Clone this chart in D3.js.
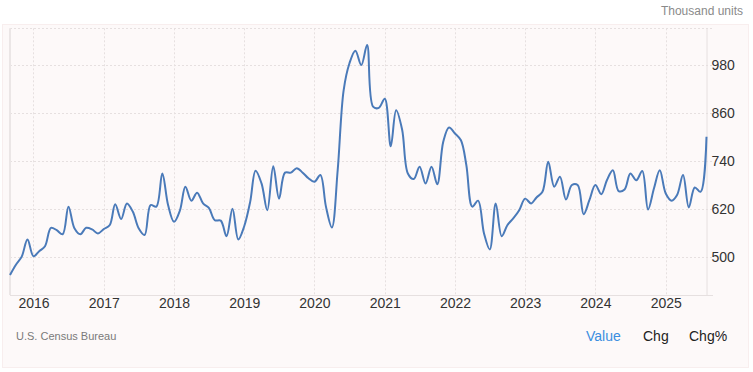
<!DOCTYPE html>
<html>
<head>
<meta charset="utf-8">
<script src="https://cdn.jsdelivr.net/npm/d3@7"></script>
<style>
  html, body { margin: 0; padding: 0; background: #fff; }
  body { width: 753px; height: 372px; overflow: hidden; font-family: "Liberation Sans", Arial, sans-serif; }
</style>
</head>
<body>
<svg id="chart" width="753" height="372"></svg>
<script>
// monthly new home sales, Sep 2015 .. Aug 2025 (thousand units)
const startMonth = '2015-09';
const sales = [
  455, 480, 501, 544, 502, 515, 527, 573, 567, 557, 626, 572,
  557, 573, 569, 559, 570, 580, 632, 595, 634, 613, 572, 555,
  630, 626, 709, 630, 588, 617, 676, 641, 661, 634, 623, 592,
  591, 552, 621, 544, 577, 638, 716, 684, 617, 727, 646, 711,
  711, 722, 711, 697, 688, 705, 626, 574, 717, 917, 984, 1016,
  980, 1030, 876, 873, 896, 777, 867, 819, 709, 695, 726, 684,
  726, 682, 788, 824, 809, 792, 730, 626, 641, 559, 519, 634,
  552, 580, 597, 617, 646, 634, 649, 663, 738, 676, 701, 644,
  680, 680, 607, 642, 680, 657, 692, 717, 665, 669, 709, 692,
  715, 619, 672, 717, 659, 641, 655, 705, 624, 674, 663, 801
];
const yTicks = [500, 620, 740, 860, 980];
const yearTicks = [2016, 2017, 2018, 2019, 2020, 2021, 2022, 2023, 2024, 2025];
const unitLabel = 'Thousand units';
const sourceLabel = 'U.S. Census Bureau';
const tabs = ['Value', 'Chg', 'Chg%'];

const t0 = d3.timeParse('%Y-%m')(startMonth);
const data = sales.map((v, i) => ({ date: d3.timeMonth.offset(t0, i), value: v }));

const svg = d3.select('#chart');

const plot = { left: 10, right: 706.5, top: 28.3, bottom: 295 };

// panel
svg.append('rect')
  .attr('x', 2.5).attr('y', 24.5).attr('width', 746).attr('height', 343)
  .attr('fill', '#fdf9f9').attr('stroke', '#f8eeee').attr('stroke-width', 1);

const x = d3.scaleTime()
  .domain(d3.extent(data, d => d.date))
  .range([plot.left, plot.right]);

const y = d3.scaleLinear()
  .domain([405, 1072])
  .range([plot.bottom, plot.top]);

// grid
const grid = svg.append('g')
  .attr('stroke', '#e6e0e0')
  .attr('stroke-dasharray', '2,2')
  .attr('stroke-width', 1);

grid.selectAll('line.h')
  .data(yTicks.concat([1072]))
  .join('line')
  .attr('class', 'h')
  .attr('x1', plot.left).attr('x2', 713)
  .attr('y1', d => Math.round(y(d)) + 0.5)
  .attr('y2', d => Math.round(y(d)) + 0.5);

grid.selectAll('line.v')
  .data(yearTicks)
  .join('line')
  .attr('class', 'v')
  .attr('x1', d => Math.round(x(new Date(d, 0, 1))) + 0.5)
  .attr('x2', d => Math.round(x(new Date(d, 0, 1))) + 0.5)
  .attr('y1', plot.top).attr('y2', plot.bottom);

// plot borders
svg.append('line')
  .attr('x1', plot.left).attr('x2', plot.left)
  .attr('y1', plot.top).attr('y2', plot.bottom)
  .attr('stroke', '#ebe6e6').attr('stroke-width', 2);
svg.append('line')
  .attr('x1', plot.left).attr('x2', 713)
  .attr('y1', plot.bottom + 0.5).attr('y2', plot.bottom + 0.5)
  .attr('stroke', '#e6e0e0').attr('stroke-width', 1);
svg.append('line')
  .attr('x1', plot.right + 0.5).attr('x2', plot.right + 0.5)
  .attr('y1', plot.top).attr('y2', plot.bottom)
  .attr('stroke', '#e6e0e0').attr('stroke-width', 1);

// y axis (right)
const yAxis = d3.axisRight(y).tickValues(yTicks).tickSize(0).tickPadding(5);
svg.append('g')
  .attr('transform', `translate(${plot.right},0)`)
  .call(yAxis)
  .call(g => g.select('.domain').remove())
  .call(g => g.selectAll('text')
    .attr('fill', '#333')
    .attr('font-size', '14px')
    .attr('font-family', '"Liberation Sans", Arial, sans-serif'));

// x axis
const xAxis = d3.axisBottom(x)
  .tickValues(yearTicks.map(yr => new Date(yr, 0, 1)))
  .tickFormat(d3.timeFormat('%Y'))
  .tickSize(0).tickPadding(3);
svg.append('g')
  .attr('transform', `translate(0,${plot.bottom})`)
  .call(xAxis)
  .call(g => g.select('.domain').remove())
  .call(g => g.selectAll('text')
    .attr('fill', '#333')
    .attr('font-size', '14px')
    .attr('font-family', '"Liberation Sans", Arial, sans-serif'));

// line
const line = d3.line()
  .x(d => x(d.date))
  .y(d => y(d.value))
  .curve(d3.curveCatmullRom.alpha(0.5));

svg.append('path')
  .datum(data)
  .attr('fill', 'none')
  .attr('stroke', '#4a7ab9')
  .attr('stroke-width', 2)
  .attr('stroke-linejoin', 'round')
  .attr('d', line);

// texts
svg.append('text')
  .attr('x', 743).attr('y', 15)
  .attr('text-anchor', 'end')
  .attr('fill', '#8a8a8a')
  .attr('font-size', '12px')
  .text(unitLabel);

svg.append('text')
  .attr('x', 16).attr('y', 340)
  .attr('fill', '#7a7a7a')
  .attr('font-size', '11px')
  .text(sourceLabel);

const tabX = [586, 643, 689];
svg.selectAll('text.tab')
  .data(tabs)
  .join('text')
  .attr('class', 'tab')
  .attr('x', (d, i) => tabX[i])
  .attr('y', 341)
  .attr('fill', (d, i) => i === 0 ? '#3b8ee0' : '#222')
  .attr('font-size', '14px')
  .text(d => d);
</script>
</body>
</html>
